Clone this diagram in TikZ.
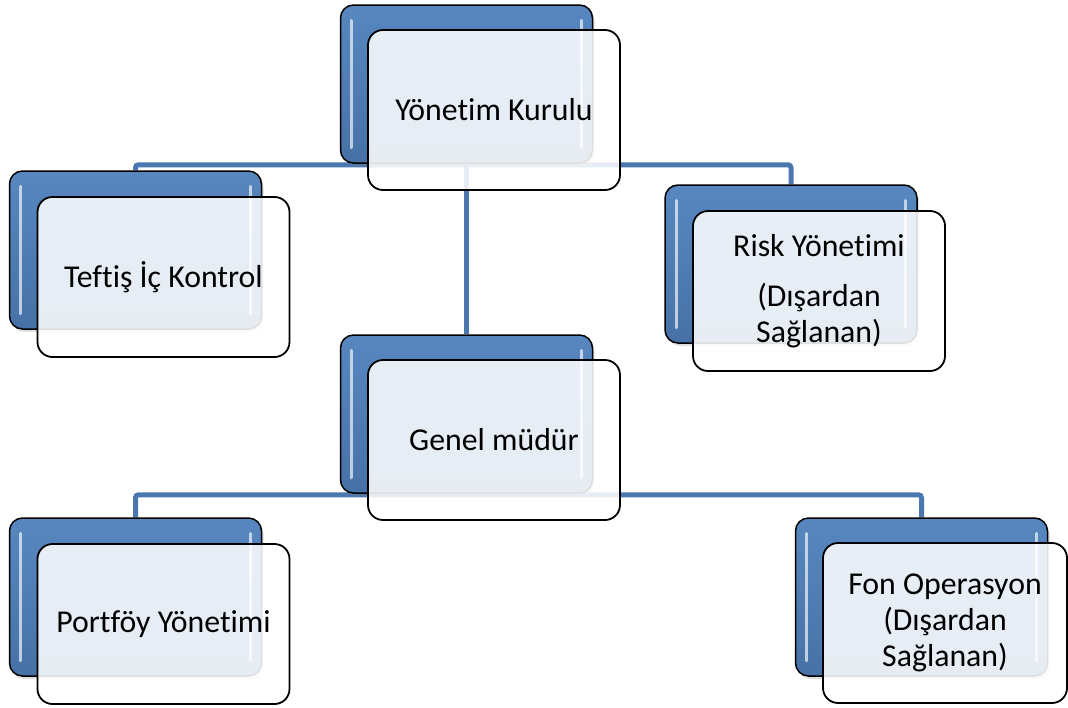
\documentclass[tikz,border=0pt]{standalone}
\usepackage{fontspec}
\setmainfont{Carlito}[Ligatures={NoCommon}]
\usetikzlibrary{shadows,calc}
\definecolor{accent}{HTML}{4F81BD}
\definecolor{connc}{HTML}{4A77B0}
\pgfdeclarelayer{bg}
\pgfsetlayers{bg,main}
\tikzset{
 backbox/.style={draw=black, line width=1.5pt, rounded corners=13pt, minimum width=252pt, minimum height=158pt, inner sep=0pt,
   top color=accent!95!white, bottom color=accent!88!black, shading angle=0,
   drop shadow={opacity=0.25, shadow xshift=2pt, shadow yshift=-3pt}},
 frontbox/.style={draw=black, line width=1.8pt, rounded corners=15pt, minimum width=252pt, minimum height=160pt, inner sep=0pt,
   fill=white, fill opacity=0.87, text opacity=1, align=center, font=\fontsize{31.8}{36}\selectfont, text=black},
 connline/.style={draw=connc, line width=5pt, rounded corners=3pt},
 hl/.style={draw=white, opacity=0.65, line width=3pt, line cap=round}
}
\newcommand\hlbox[1]{%
 \draw[hl] ($(#1.north west)+(12,16)$) -- ($(#1.south west)+(12,-16)$);
 \draw[hl] ($(#1.north east)+(-12,16)$) -- ($(#1.south east)+(-12,-16)$);}
\begin{document}
\begin{tikzpicture}[x=1pt,y=-1pt]
\useasboundingbox (0,0) rectangle (1068,707);
% Yonetim Kurulu
\node[backbox] (kB) at (466.5,84) {};
\hlbox{kB}
\node[frontbox] (k) at (494,110) {Yönetim Kurulu};
% Teftis
\node[backbox] (tB) at (135.5,250) {};
\hlbox{tB}
\node[frontbox] (t) at (163.5,277) {Teftiş İç Kontrol};
% Risk
\node[backbox] (rB) at (791,264) {};
\hlbox{rB}
\node[frontbox] (r) at (819,291) {Risk Yönetimi\\[14pt](Dışardan\\Sağlanan)};
% Genel mudur
\node[backbox] (gB) at (466.5,414) {};
\hlbox{gB}
\node[frontbox] (g) at (494,440) {Genel müdür};
% Portfoy
\node[backbox] (pB) at (135.5,597) {};
\hlbox{pB}
\node[frontbox] (p) at (163.5,624) {Portföy Yönetimi};
% Fon
\node[backbox] (fB) at (921.5,597) {};
\hlbox{fB}
\node[frontbox, minimum width=244pt] (f) at (945,623) {Fon Operasyon\\(Dışardan\\Sağlanan)};
% connectors
\begin{pgfonlayer}{bg}
\draw[connline] (tB.north) |- ($(kB.south)+(0,1)$) -| (rB.north);
\draw[connline, rounded corners=0pt] (kB.south) -- (gB.north);
\draw[connline] (pB.north) |- ($(gB.south)+(0,1)$) -| (fB.north);
\end{pgfonlayer}
\end{tikzpicture}
\end{document}
